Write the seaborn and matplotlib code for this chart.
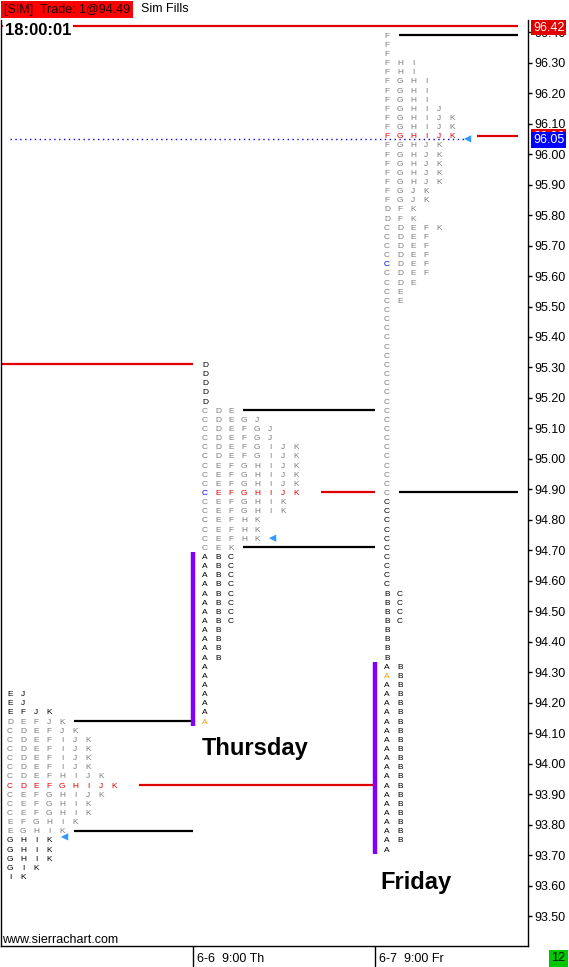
import numpy as np
import matplotlib
matplotlib.use("Agg")
import matplotlib.pyplot as plt
import matplotlib.transforms as mtransforms
import seaborn as sns

# ---- values ----
# x is in TPO-column units, 0 = "6-6 9:00 Th" session start
session_start = [-15, 0, 14]
session_top = [94.23, 95.31, 96.39]   # price of the top row of each profile
row_step = 0.03

wed_rows = ["EJ", "EJ", "EFJK", "DEFJK", "CDEFJK", "CDEFIJK", "CDEFIJK", "CDEFIJK",
            "CDEFIJK", "CDEFHIJK", "CDEFGHIJK", "CEFGHIJK", "CEFGHIK", "CEFGHIK",
            "EFGHIK", "EGHIK", "GHIK", "GHIK", "GHIK", "GIK", "IK"]
thu_rows = (["D"] * 5
            + ["CDE", "CDEGJ", "CDEFGJ", "CDEFGJ", "CDEFGIJK", "CDEFGIJK", "CEFGHIJK",
               "CEFGHIJK", "CEFGHIJK", "CEFGHIJK", "CEFGHIK", "CEFGHIK", "CEFHK",
               "CEFHK", "CEFHK", "CEK"]
            + ["ABC"] * 8 + ["AB"] * 4 + ["A"] * 7)
fri_rows = (["F", "F", "F", "FHI", "FHI", "FGHI", "FGHI", "FGHI", "FGHIJ",
             "FGHIJK", "FGHIJK", "FGHIJK"]
            + ["FGHJK"] * 5 + ["FGJK"] * 2 + ["DFK"] * 2 + ["CDEFK"]
            + ["CDEF"] * 5 + ["CDE"] + ["CE"] * 2 + ["C"] * 31
            + ["BC"] * 4 + ["B"] * 4 + ["AB"] * 20 + ["A"])

poc_row = [10, 14, 11]
va_high_row = [3, 5, 0]
va_low_row = [15, 20, 50]
close_price = [93.76, 94.74, 96.05]
blue_cell = [None, (14, 0), (25, 0)]
orange_cell = [None, (39, 0), (70, 0)]

old_poc_prices = [96.42, 95.31]
last_price = 96.05
x_tick_labels = ["6-6  9:00 Th", "6-7  9:00 Fr"]
day_labels = ["Thursday", "Friday"]
y_ticks = [v / 100 for v in range(9350, 9641, 10)]

# ---- layout ----
W, H = 569, 967
chart_end = 25
first_col = 0.92
xmin, xmax = -14.77, 25.77
ymin, ymax = 93.402, 96.44

GRAY = "#7c7c7c"
RED = "#e00000"
BLUE = "#0000ff"
ORANGE = "#ff9900"
PURPLE = "#8000ff"

sns.set_style("white")
plt.rcParams["font.family"] = ["Liberation Sans", "DejaVu Sans"]
plt.rcParams["text.color"] = "black"

fig = plt.figure(figsize=(W / 100, H / 100), dpi=100)
ax = fig.add_axes([1 / W, (H - 946) / H, 527 / W, 926 / H])
ax.set_xlim(xmin, xmax)
ax.set_ylim(ymin, ymax)

profiles = [wed_rows, thu_rows, fri_rows]
highs = [session_top[s] for s in range(3)]
lows = [session_top[s] - (len(profiles[s]) - 1) * row_step for s in range(3)]


def row_price(s, i):
    return round(session_top[s] - i * row_step, 2)


def poc_end(price, after):
    for t in range(after + 1, 3):
        if lows[t] - 1e-9 <= price <= highs[t] + 1e-9:
            return session_start[t]
    return chart_end


# TPO letters
for s, rows in enumerate(profiles):
    x0 = session_start[s] + first_col
    for i, row in enumerate(rows):
        p = row_price(s, i)
        if i == poc_row[s]:
            col = RED
        elif va_high_row[s] <= i <= va_low_row[s]:
            col = GRAY
        else:
            col = "black"
        for j, ch in enumerate(row):
            c = col
            if blue_cell[s] == (i, j):
                c = BLUE
            if orange_cell[s] == (i, j):
                c = ORANGE
            ax.text(x0 + j, p, ch, color=c, fontsize=6, ha="center",
                    va="center_baseline", clip_on=True)

# value area lines and POC extensions
for s, rows in enumerate(profiles):
    x0 = session_start[s] + first_col
    end = session_start[s + 1] if s < 2 else chart_end
    for r in (va_high_row[s], va_low_row[s]):
        ax.hlines(row_price(s, r), x0 + len(rows[r]) - 0.05, end,
                  color="black", lw=1.6, zorder=2)
    pr = poc_row[s]
    ax.hlines(row_price(s, pr), x0 + len(rows[pr]) + 0.95,
              poc_end(row_price(s, pr), s), color=RED, lw=1.6, zorder=2)

for p in old_poc_prices:
    ax.hlines(p, xmin, poc_end(p, -1), color=RED, lw=1.6, zorder=2)

# opening (A period) range bars
for s, rows in enumerate(profiles):
    a_rows = [i for i, r in enumerate(rows) if "A" in r]
    if a_rows:
        ax.vlines(session_start[s], row_price(s, a_rows[-1]) - row_step / 2,
                  row_price(s, a_rows[0]) + row_step / 2, color=PURPLE, lw=3.2, zorder=3)

# close / last price markers
tri_x = []
for s, rows in enumerate(profiles):
    i = int(round((session_top[s] - close_price[s]) / row_step))
    tri_x.append(session_start[s] + first_col + len(rows[i]) + 0.2)
ax.hlines(last_price, session_start[0] + first_col, tri_x[2], color=BLUE,
          lw=1, linestyles=(0, (1, 2.5)), zorder=2)
sns.scatterplot(x=tri_x, y=close_price, marker="<", s=28, color="#3399ff",
                edgecolor="none", ax=ax, zorder=4, legend=False)

# day names
ax.text(0.7, 94.029, day_labels[0], fontsize=17, fontweight="bold", va="baseline",
        color="black")
ax.text(14.38, 93.589, day_labels[1], fontsize=17, fontweight="bold", va="baseline",
        color="black")

# right price axis
ax.yaxis.tick_right()
ax.set_yticks(y_ticks)
ax.yaxis.set_major_formatter("{x:.2f}")
ax.tick_params(axis="y", direction="out", length=3, width=1, pad=1.5,
               labelsize=9, colors="black", left=False, right=True)

ytrans = mtransforms.blended_transform_factory(ax.transAxes, ax.transData)
lab_x = 1 + 5 / 527
ax.text(lab_x, old_poc_prices[0], "%.2f" % old_poc_prices[0], transform=ytrans,
        color="white", fontsize=9, va="center_baseline", clip_on=False, zorder=10,
        bbox=dict(boxstyle="square,pad=0.15", fc=RED, ec="none"))
fri_poc = row_price(2, poc_row[2])
ax.text(lab_x, fri_poc, "%.2f" % fri_poc, transform=ytrans, color="white",
        fontsize=9, va="center_baseline", clip_on=False, zorder=10,
        bbox=dict(boxstyle="square,pad=0.15", fc=RED, ec="none"))
ax.text(lab_x, last_price, "%.2f" % last_price, transform=ytrans, color="white",
        fontsize=9, va="center_baseline", clip_on=False, zorder=11,
        bbox=dict(boxstyle="square,pad=0.15", fc=BLUE, ec="none"))

# bottom time axis
ax.set_xticks(session_start[1:])
ax.set_xticklabels([])
ax.tick_params(axis="x", direction="out", length=15.5, width=1, colors="black",
               bottom=True)
for x, lab in zip(session_start[1:], x_tick_labels):
    ax.annotate(lab, xy=(x, 0), xycoords=("data", "axes fraction"),
                xytext=(3, -11.5), textcoords="offset points", fontsize=9,
                ha="left", va="baseline", annotation_clip=False, color="black")

for side in ["left", "right", "bottom"]:
    ax.spines[side].set_color("black")
    ax.spines[side].set_linewidth(1)
ax.spines["top"].set_visible(False)

# header texts
fig.text(4 / W, 1 - 12.5 / H, "[SIM]  Trade: 1@94.49", fontsize=9, color="#200000",
         va="baseline", bbox=dict(boxstyle="square,pad=0.2", fc="#ff0000", ec="none"))
fig.text(141 / W, 1 - 12.5 / H, "Sim Fills", fontsize=9, va="baseline", color="black")
fig.text(5 / W, 1 - 35 / H, "18:00:01", fontsize=12, fontweight="bold", va="baseline",
         color="black", bbox=dict(boxstyle="square,pad=0.1", fc="white", ec="none"),
         zorder=10)
fig.text(2 / W, 1 - 943 / H, "www.sierrachart.com", fontsize=9, va="baseline",
         color="black")
fig.text(558 / W, 1 - 958 / H, "12", fontsize=9, ha="center", va="center",
         color="black", bbox=dict(boxstyle="square,pad=0.2", fc="#00c800", ec="none"))

fig.savefig("out.png", dpi=100)
